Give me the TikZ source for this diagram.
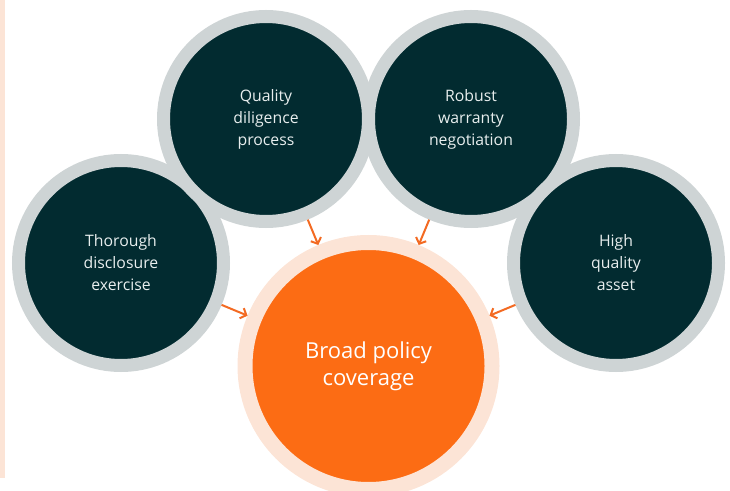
\documentclass[tikz,border=0pt]{standalone}
\usepackage{fontspec}
\setmainfont{Open Sans}
\usetikzlibrary{arrows.meta}
\definecolor{darkteal}{HTML}{022B30}
\definecolor{ringgrey}{HTML}{CED4D5}
\definecolor{brandorange}{HTML}{FC6C14}
\definecolor{peach}{HTML}{FCE4D6}
\definecolor{arroworange}{HTML}{F36A22}
\definecolor{lighttext}{HTML}{E8EEEE}
\begin{document}
\begin{tikzpicture}[x=1pt,y=1pt,>={Straight Barb[length=5pt,width=11pt]},
    factor/.style={circle,draw=ringgrey,line width=13pt,fill=darkteal,minimum size=205pt,
        inner sep=0pt,text=lighttext,align=center,font=\fontsize{15.8}{22}\selectfont},
    result/.style={circle,draw=peach,line width=15pt,fill=brandorange,minimum size=247pt,
        inner sep=0pt,text=white,align=center,font=\fontsize{22}{27}\selectfont}]
    \clip (0,0) rectangle (730,490);
    \fill[peach] (0,12) rectangle (5,490);
    \node[factor] (thorough) at (121,227) {Thorough\\disclosure\\exercise};
    \node[factor] (quality) at (266,371) {Quality\\diligence\\process};
    \node[factor] (robust) at (471,371) {Robust\\warranty\\negotiation};
    \node[factor] (high) at (616,227) {High\\quality\\asset};
    \node[result] (broad) at (368.5,124) {Broad policy\\coverage};
\foreach \n in {thorough,quality,robust,high}
    \draw[->,arroworange,line width=2pt] (\n) -- (broad);
\end{tikzpicture}
\end{document}
